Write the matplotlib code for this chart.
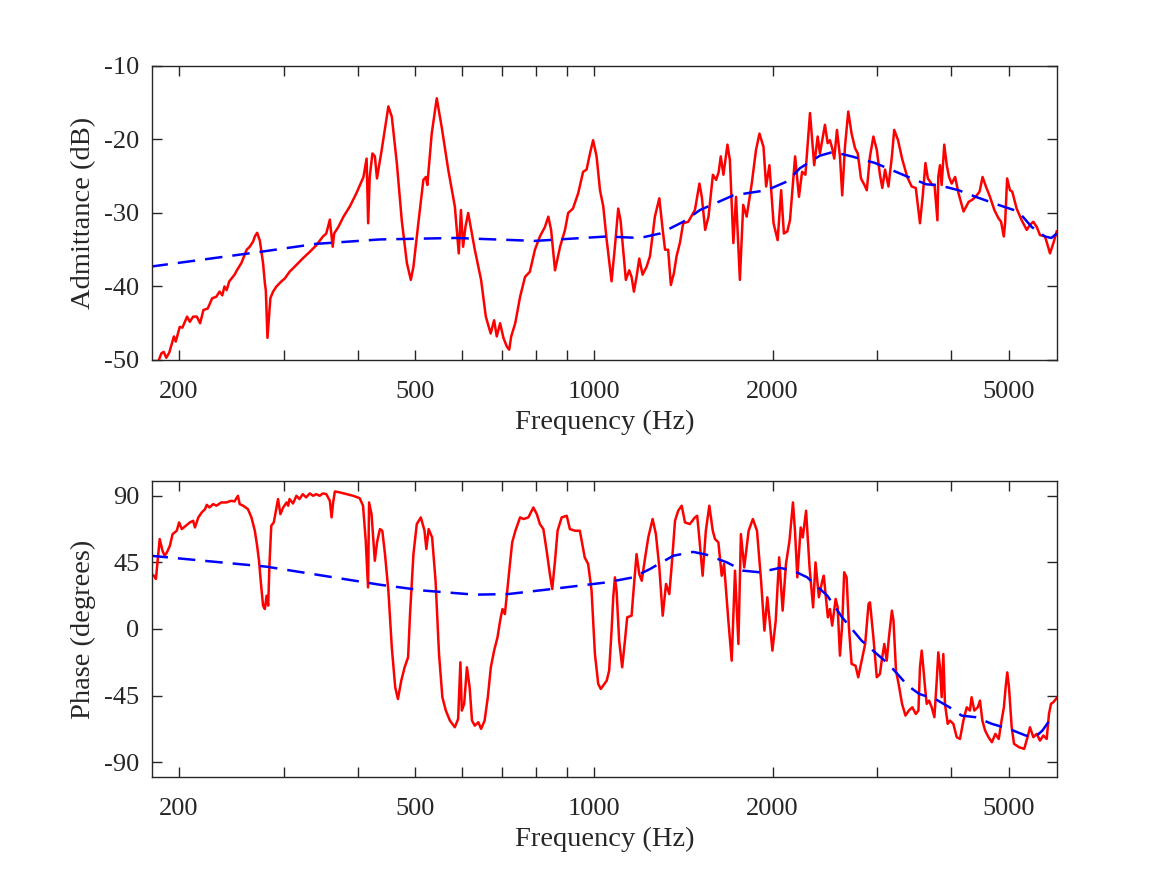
import matplotlib
matplotlib.use('Agg')
import matplotlib.pyplot as plt
from matplotlib.ticker import FixedLocator, FixedFormatter, NullLocator

plt.rcParams['font.family'] = ['Liberation Serif', 'DejaVu Serif']
plt.rcParams['axes.unicode_minus'] = False

# measured admittance (red)
adm_freq = [181, 186.7, 188.4, 190.3, 192.5, 196, 197.4, 200.5, 202.6, 206.3, 208.5, 211.2, 214.2, 217, 219.8,
            223.5, 227.4, 231, 234, 236.5, 238.5, 240.5, 243, 248, 250.3, 254.7, 260, 263, 266.5, 268.3, 270.7,
            273.5, 277, 279, 280, 281.8, 283.5, 285, 288, 291.8, 297.5, 301.5, 307, 315, 323, 332, 340.5, 349.5,
            354, 359, 360.4, 363, 365, 371, 378.5, 388, 398, 409, 414, 416.5, 419, 423.5, 427.5, 431, 439, 450.5,
            456.5, 465.5, 474.5, 484, 491.5, 496.5, 506, 516, 521, 524, 533, 543.5, 554, 568.5, 583, 592, 597, 602,
            607.5, 614, 620, 630, 645.5, 657.5, 670, 679, 686, 695, 704, 713.5, 720, 725.5, 737, 751, 765.5, 780,
            795.5, 811, 827, 838, 847, 860, 877, 894, 905, 922, 941, 959, 972, 985, 997, 1010.5, 1024, 1037, 1051,
            1071, 1085, 1099, 1109, 1120.5, 1132, 1147, 1157.5, 1168, 1180, 1192.5, 1208, 1227, 1243, 1267, 1289,
            1306, 1318, 1334, 1348, 1364, 1378, 1396, 1414, 1442, 1480, 1506, 1520, 1540, 1560, 1587, 1607, 1623,
            1636, 1653, 1679, 1695, 1718, 1736, 1762, 1785, 1809, 1845, 1876, 1901, 1931, 1951, 1976, 2008, 2040,
            2068, 2090, 2118, 2140, 2183, 2216, 2243, 2272, 2313, 2351, 2383, 2404, 2451, 2477, 2499, 2521, 2541,
            2568, 2598, 2621, 2649, 2683, 2718, 2755, 2784, 2819, 2857, 2883, 2919, 2958, 2997, 3034, 3062, 3095,
            3136, 3178, 3207, 3255, 3306, 3373, 3432, 3487, 3544, 3581, 3620, 3654, 3718, 3750, 3792, 3805, 3830,
            3855, 3894, 3932, 3967, 4008, 4062, 4115, 4197, 4280, 4340, 4398, 4466, 4518, 4577, 4650, 4730, 4805,
            4855, 4906, 4931, 4970, 5025, 5070, 5157, 5259, 5363, 5431, 5502, 5575, 5645, 5756, 5817, 5869, 5947,
            6025]
adm_db = [-52, -49.1, -48.9, -49.7, -49.0, -46.8, -47.5, -45.5, -45.6, -44.1, -44.8, -44.1, -44.1, -45.0, -43.2,
          -43.0, -41.6, -41.4, -40.7, -41.2, -40.0, -40.5, -39.3, -38.4, -37.8, -36.8, -35.0, -34.6, -33.9, -33.2,
          -32.7, -33.7, -36.8, -39.6, -40.5, -47.0, -44.1, -41.6, -40.7, -40.0, -39.3, -38.9, -38.0, -37.1, -36.2,
          -35.3, -34.4, -33.2, -32.8, -30.9, -32.3, -34.6, -32.8, -31.9, -30.5, -29.1, -27.3, -25.1, -22.6, -31.4,
          -25.1, -21.9, -22.3, -25.3, -21.4, -15.5, -16.9, -23.2, -31.0, -36.8, -39.1, -37.3, -31.4, -25.5, -25.1,
          -26.2, -19.2, -14.4, -18.3, -24.2, -29.1, -35.5, -29.6, -34.6, -31.9, -30.0, -31.9, -35.0, -39.1, -44.1,
          -46.4, -44.6, -46.8, -45.0, -47.0, -48.2, -48.6, -46.8, -45.0, -41.4, -38.7, -38.0, -35.0, -33.2, -31.9,
          -30.5, -32.3, -37.8, -34.6, -32.3, -30.0, -29.4, -27.3, -24.4, -24.1, -21.9, -20.1, -22.3, -26.9, -29.1,
          -33.7, -39.3, -34.6, -29.4, -31.0, -35.0, -39.1, -37.8, -38.7, -40.7, -38.7, -36.2, -38.4, -37.3, -35.9,
          -30.5, -28.0, -32.3, -35.0, -35.0, -39.8, -38.2, -35.9, -34.1, -31.4, -31.2, -29.6, -26.0, -27.8, -32.3,
          -30.5, -24.8, -25.5, -24.4, -22.3, -24.8, -20.7, -22.8, -34.1, -27.8, -39.1, -28.9, -30.5, -26.0, -21.4,
          -19.2, -21.0, -26.4, -23.5, -31.4, -33.7, -26.9, -32.8, -32.5, -31.0, -22.3, -27.8, -24.4, -24.8, -16.4,
          -23.5, -19.6, -21.9, -18.0, -20.5, -20.1, -21.2, -22.6, -18.7, -22.3, -27.6, -21.0, -16.2, -19.2, -21.2,
          -21.9, -25.3, -26.2, -26.9, -22.3, -19.6, -21.4, -24.8, -26.6, -24.1, -26.4, -22.3, -18.7, -20.1, -22.6,
          -25.1, -26.4, -26.6, -31.4, -27.8, -23.2, -25.3, -26.2, -26.2, -31.0, -25.1, -23.5, -26.2, -20.7, -23.5,
          -25.1, -26.0, -25.1, -27.3, -29.8, -28.5, -28.2, -27.8, -27.1, -25.1, -26.4, -27.8, -29.6, -30.7, -31.2,
          -33.2, -31.4, -25.3, -26.9, -27.1, -29.4, -31.0, -32.3, -31.6, -31.2, -31.9, -33.0, -33.2, -34.4, -35.5,
          -34.1, -32.5]

# fitted admittance (blue dashed)
adm_fit_freq = [179, 273.5, 340.5, 436, 584, 795.5, 1051, 1195, 1292, 1414, 1509, 1718, 1956, 2118, 2225, 2404,
                2530, 2718, 2977, 3385, 3632, 3805, 4115, 4398, 4805, 5190, 5467, 5756, 5900, 6025]
adm_fit_db = [-37.3, -35.3, -34.2, -33.6, -33.4, -33.8, -33.2, -33.4, -32.8, -31.2, -29.6, -27.6, -26.9, -25.7,
              -23.9, -22.2, -21.7, -22.3, -23.2, -25.1, -26.1, -26.2, -26.9, -27.8, -28.9, -29.8, -31.9, -33.2,
              -33.4, -32.8]

# measured phase (red)
phase_freq = [179.7, 181.4, 182.8, 183.8, 185.5, 187.5, 189.1, 190.8, 193, 195, 198.2, 200, 202.1, 205.3, 208.5,
              211.2, 212.7, 215.5, 218.4, 221.2, 222.7, 225, 228.3, 231.1, 235.6, 240.2, 244.8, 248, 251.3, 253,
              256.4, 261.2, 264.8, 268.3, 270.7, 272.7, 274.5, 277, 279, 280.8, 282.6, 284, 286, 288.8, 291.8,
              293.6, 296.3, 299.5, 303.5, 305.4, 307, 311.2, 315.3, 319, 323.2, 327.4, 332, 336.4, 340.6, 345,
              349.5, 354.1, 359, 361.4, 363.6, 366, 373, 383, 393, 403, 408.3, 412.6, 416.3, 418, 422, 427.4, 431.3,
              436, 440, 444.6, 450.5, 456.5, 462.6, 467.5, 473.6, 479.8, 486.3, 490, 496.5, 503, 511, 518.3, 522,
              526.7, 533.8, 541, 548.3, 555.5, 563, 572, 583, 590.5, 595.7, 599, 604.5, 611, 617.5, 623.2, 630,
              638.7, 645.5, 654.4, 662.6, 670.4, 679, 688, 695, 701.4, 708, 714.4, 722, 728.3, 737.5, 751, 761,
              775.6, 790.6, 801.3, 811, 822, 832.5, 843, 850.8, 860, 868.6, 882.6, 900, 911, 929, 947, 965, 978,
              991, 1004, 1017, 1027, 1051, 1061, 1071, 1078, 1085, 1092, 1103, 1116, 1128, 1138, 1157.5, 1165, 1180,
              1192.5, 1204, 1219, 1235, 1256, 1272, 1289, 1306, 1323, 1340, 1353, 1370, 1387, 1406, 1424, 1451,
              1480, 1493, 1505, 1525, 1544, 1565, 1586, 1600, 1621, 1642, 1657, 1685, 1707, 1729, 1752, 1769, 1792,
              1823, 1853, 1883, 1913, 1938, 1960, 1980, 1999, 2025, 2052, 2080, 2107, 2136, 2165, 2182, 2202, 2231,
              2249, 2278, 2309, 2341, 2363, 2394, 2426, 2440, 2479, 2499, 2521, 2555, 2575, 2598, 2621, 2641, 2666,
              2690, 2718, 2760, 2789, 2826, 2865, 2903, 2919, 2958, 2997, 3034, 3055, 3086, 3115, 3142, 3178, 3198,
              3229, 3262, 3306, 3350, 3394, 3440, 3487, 3523, 3544, 3568, 3590, 3614, 3638, 3672, 3709, 3748, 3782,
              3805, 3830, 3855, 3880, 3905, 3947, 3981, 4034, 4087, 4139, 4194, 4249, 4302, 4330, 4376, 4435, 4473,
              4515, 4563, 4623, 4685, 4748, 4811, 4864, 4908, 4941, 4973, 5006, 5059, 5105, 5206, 5310, 5380, 5431,
              5502, 5575, 5645, 5720, 5795, 5846, 5892, 5945, 6030]
phase_deg = [37.1, 36.0, 33.8, 43.9, 60.8, 52.9, 49.5, 51.8, 56.3, 64.1, 66.4, 72.0, 67.5, 69.8, 72.0, 73.1, 68.6,
             75.4, 78.8, 81.0, 83.9, 82.1, 84.4, 83.3, 85.5, 85.5, 86.6, 86.2, 90.0, 84.4, 83.3, 81.0, 75.4, 66.4,
             56.3, 46.1, 32.6, 15.8, 13.5, 22.5, 15.8, 43.9, 69.8, 72.0, 82.1, 87.8, 77.6, 82.1, 85.5, 83.3, 87.8,
             84.8, 90.0, 87.8, 91.1, 88.9, 91.6, 90.0, 91.1, 90.0, 91.6, 91.1, 86.6, 75.4, 85.5, 92.9, 92.3, 91.1,
             90.0, 88.4, 83.3, 59.6, 28.1, 85.5, 77.6, 46.1, 59.0, 67.5, 66.4, 50.6, 25.9, -12.4, -39.4, -47.3,
             -34.9, -25.9, -19.1, 10.1, 50.6, 70.9, 75.4, 66.4, 54.0, 67.5, 61.9, 32.6, -16.9, -46.1, -55.1, -61.9,
             -66.4, -60.8, -22.5, -55.1, -50.6, -25.9, -39.4, -61.9, -65.3, -63.0, -67.5, -61.9, -46.1, -25.9,
             -14.6, -5.6, 5.6, 13.5, 10.1, 25.9, 43.9, 58.5, 66.4, 75.4, 74.3, 75.4, 82.1, 77.6, 70.9, 67.5, 52.9,
             37.1, 27.0, 46.1, 66.4, 75.4, 76.5, 67.5, 66.4, 66.4, 48.4, 43.9, 25.9, -16.9, -37.1, -40.5, -34.9,
             -28.1, -1.1, 21.4, 34.9, 25.9, -7.9, -25.9, -7.9, 7.9, 9.0, 23.6, 50.6, 37.1, 32.6, 47.3, 61.9, 74.3,
             64.1, 41.6, 9.0, 30.4, 23.6, 43.9, 73.1, 79.9, 83.3, 72.0, 70.9, 75.4, 76.5, 61.9, 36.0, 66.4, 83.3,
             66.4, 60.8, 58.5, 36.0, 43.9, 5.6, -21.4, 39.4, -10.1, 64.1, 41.6, 66.4, 74.3, 66.4, 32.6, -1.1, 21.4,
             3.4, -14.6, 5.6, 48.4, 12.4, 43.9, 59.6, 85.5, 66.4, 34.9, 68.6, 61.9, 79.9, 41.6, 14.6, 45.0, 21.4,
             32.6, 36.0, 7.9, 13.5, 2.3, 20.3, 14.6, -18.0, 3.4, 38.3, 34.9, 1.1, -23.6, -24.8, -32.6, -21.4, -10.1,
             16.9, 18.0, -5.6, -32.6, -30.4, -21.4, -10.1, -21.4, -5.6, 12.4, 5.6, -28.1, -37.1, -50.6, -58.5,
             -55.1, -52.9, -57.4, -55.1, -25.9, -14.6, -25.9, -39.4, -50.6, -48.4, -52.9, -59.6, -34.9, -15.8,
             -25.9, -46.1, -16.9, -50.6, -64.1, -61.9, -64.1, -73.1, -74.3, -61.9, -52.9, -55.1, -46.1, -55.1,
             -52.9, -48.4, -61.9, -68.6, -73.1, -76.5, -70.9, -74.3, -61.9, -52.9, -39.4, -29.3, -39.4, -66.4,
             -77.6, -79.9, -81.0, -73.1, -66.4, -73.1, -70.9, -75.4, -72.0, -74.3, -57.4, -50.6, -49.5, -46.5]

# fitted phase (blue dashed)
phase_fit_freq = [179, 280.8, 436, 519, 630, 717, 849, 1051, 1165, 1243, 1361, 1470, 1548, 1675, 1785, 1905, 2058,
                  2168, 2288, 2474, 2620, 2826, 2977, 3136, 3381, 3534, 3760, 3974, 4165, 4398, 4685, 5006, 5343,
                  5553, 5700, 5830, 5940]
phase_fit_deg = [49.5, 42.1, 29.9, 25.9, 23.2, 23.6, 27.0, 31.5, 34.9, 40.5, 49.5, 52.1, 50.2, 45.0, 39.4, 38.3,
                 41.3, 39.4, 34.9, 22.5, 7.9, -7.9, -15.8, -23.6, -38.3, -43.9, -47.3, -52.9, -58.5, -59.6, -64.1,
                 -67.5, -72.0, -72.7, -68.6, -63.0, -58.0]

tick_freqs = [200, 300, 400, 500, 600, 700, 800, 900, 1000, 2000, 3000, 4000, 5000]
tick_names = ['200', '', '', '500', '', '', '', '', '1000', '2000', '', '', '5000']
adm_ticks = [-50, -40, -30, -20, -10]
phase_ticks = [-90, -45, 0, 45, 90]


def style_axes(ax):
    ax.set_xscale('log')
    ax.set_xlim(180, 6030)
    ax.xaxis.set_major_locator(FixedLocator(tick_freqs))
    ax.xaxis.set_major_formatter(FixedFormatter(tick_names))
    ax.xaxis.set_minor_locator(NullLocator())
    ax.tick_params(direction='in', top=True, right=True, length=7, width=1.0,
                   labelsize=19, color='#262626', labelcolor='#262626')
    ax.tick_params(axis='x', pad=15)
    ax.tick_params(axis='y', pad=9)
    for s in ax.spines.values():
        s.set_linewidth(1.0)
        s.set_color('#262626')
    ax.set_xlabel('Frequency (Hz)', fontsize=20.5, color='#262626', labelpad=5)


fig = plt.figure(figsize=(11.67, 8.75), dpi=100)
ax1 = fig.add_axes([0.1302, 0.5886, 0.7755, 0.336])
ax2 = fig.add_axes([0.1302, 0.112, 0.7755, 0.3383])

ax1.plot(adm_freq, adm_db, color='r', lw=1.8)
ax1.plot(adm_fit_freq, adm_fit_db, color='b', lw=1.8, dashes=(7, 4))
style_axes(ax1)
ax1.set_ylim(-50, -10)
ax1.set_yticks(adm_ticks)
ax1.set_ylabel('Admittance (dB)', fontsize=20.5, color='#262626', labelpad=6)

ax2.plot(phase_freq, phase_deg, color='r', lw=1.8)
ax2.plot(phase_fit_freq, phase_fit_deg, color='b', lw=1.8, dashes=(7, 4))
style_axes(ax2)
ax2.set_ylim(-100, 100)
ax2.set_yticks(phase_ticks)
ax2.set_ylabel('Phase (degrees)', fontsize=20.5, color='#262626', labelpad=6)

fig.savefig('out.png', dpi=100)
